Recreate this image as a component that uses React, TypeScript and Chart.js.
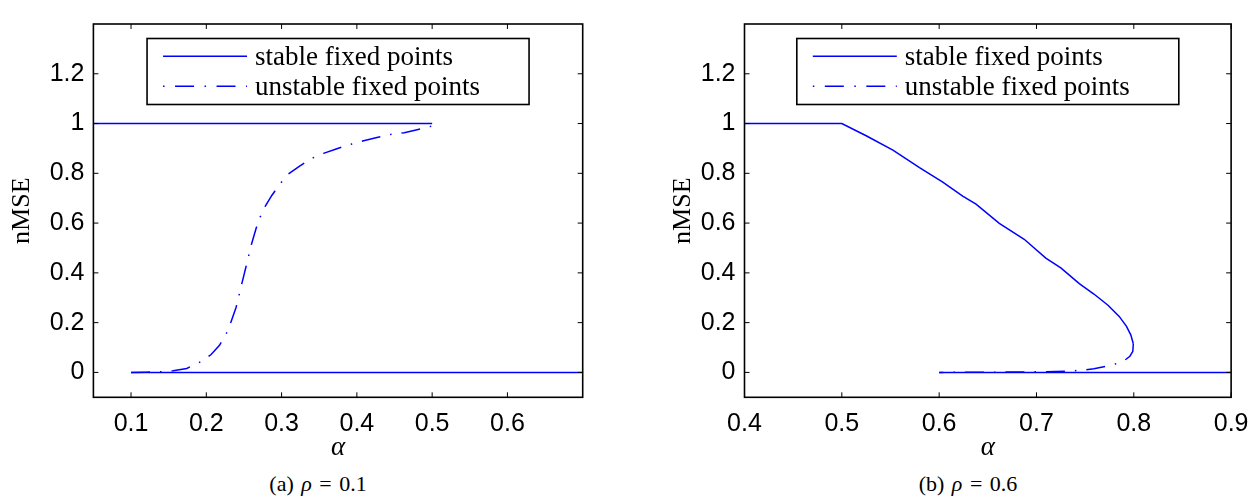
import React, { useEffect, useRef } from "react";
import { Chart, registerables } from "chart.js";

Chart.register(...registerables);

// ---------------- data ----------------
const yTicks = [0, 0.2, 0.4, 0.6, 0.8, 1, 1.2];
const yTickLabels = ["0", "0.2", "0.4", "0.6", "0.8", "1", "1.2"];

const leftAlphaTicks = [0.1, 0.2, 0.3, 0.4, 0.5, 0.6];
const leftAlphaTickLabels = ["0.1", "0.2", "0.3", "0.4", "0.5", "0.6"];
const rightAlphaTicks = [0.4, 0.5, 0.6, 0.7, 0.8, 0.9];
const rightAlphaTickLabels = ["0.4", "0.5", "0.6", "0.7", "0.8", "0.9"];

// (a) rho = 0.1
const leftStableHighAlpha = [0.05, 0.5];
const leftStableHighNmse = [1, 1];
const leftStableLowAlpha = [0.1, 0.7];
const leftStableLowNmse = [0, 0];
const leftUnstableAlpha = [
  0.1, 0.12, 0.14, 0.156, 0.174, 0.194, 0.2064, 0.2175, 0.228, 0.233, 0.2396,
  0.2476, 0.2538, 0.26, 0.2662, 0.2715, 0.278, 0.287, 0.298, 0.309, 0.3225,
  0.34, 0.3557, 0.3735, 0.3935, 0.409, 0.4267, 0.4444, 0.463, 0.48, 0.5,
];
const leftUnstableNmse = [
  0, 0.001, 0.003, 0.0065, 0.016, 0.045, 0.072, 0.109, 0.164, 0.205, 0.262,
  0.362, 0.438, 0.515, 0.579, 0.624, 0.666, 0.711, 0.758, 0.797, 0.826,
  0.86, 0.88, 0.899, 0.918, 0.931, 0.944, 0.956, 0.963, 0.975, 0.99,
];

// (b) rho = 0.6
const rightStableAlpha = [
  0.4, 0.5, 0.525, 0.5525, 0.5798, 0.6037, 0.6242, 0.6379, 0.6618, 0.6874,
  0.7096, 0.725, 0.744, 0.759, 0.7735, 0.785, 0.7925, 0.797, 0.7995,
];
const rightStableNmse = [
  1, 1, 0.951, 0.893, 0.823, 0.765, 0.708, 0.676, 0.599, 0.535,
  0.459, 0.42, 0.357, 0.315, 0.27, 0.225, 0.185, 0.15, 0.115,
];
const rightStableLowAlpha = [0.6, 0.9];
const rightStableLowNmse = [0, 0];
const rightUnstableAlpha = [
  0.7995, 0.799, 0.796, 0.79, 0.781, 0.772, 0.759, 0.745, 0.73, 0.71, 0.68,
  0.64, 0.6,
];
const rightUnstableNmse = [
  0.115, 0.085, 0.065, 0.047, 0.034, 0.025, 0.015, 0.008, 0.005, 0.003, 0.0015,
  0.0005, 0,
];

const legendLabels = ["stable fixed points", "unstable fixed points"];
const yTitle = "nMSE";
const xTitle = "\u03b1";

// ---------------- styles ----------------
const BLUE = "#0000ff";
const DASH_DOT = [19, 10, 1.5, 10];
const LEGEND_DASH_DOT = [1.5, 10.5, 19, 10.5];
const TICK_FONT = { family: '"Liberation Sans", Arial, sans-serif', size: 25 };
const SERIF = '"Liberation Serif", "Times New Roman", serif';

const pts = (xs: number[], ys: number[]) => xs.map((x, i) => ({ x, y: ys[i] }));

const matlabFrame = {
  id: "matlabFrame",
  afterDraw(chart: any, _args: any, opts: any) {
    const { ctx, chartArea: a } = chart;
    const xs = chart.scales.x;
    const ys = chart.scales.y;
    ctx.save();
    ctx.strokeStyle = "#000";
    ctx.lineWidth = 1;
    ctx.setLineDash([]);
    const tl = 5;
    ctx.beginPath();
    for (const t of xs.ticks) {
      const p = xs.getPixelForValue(t.value);
      ctx.moveTo(p, a.bottom);
      ctx.lineTo(p, a.bottom - tl);
      ctx.moveTo(p, a.top);
      ctx.lineTo(p, a.top + tl);
    }
    for (const t of ys.ticks) {
      const p = ys.getPixelForValue(t.value);
      ctx.moveTo(a.left, p);
      ctx.lineTo(a.left + tl, p);
      ctx.moveTo(a.right, p);
      ctx.lineTo(a.right - tl, p);
    }
    ctx.stroke();
    ctx.lineWidth = 1.6;
    ctx.strokeRect(a.left, a.top, a.right - a.left, a.bottom - a.top);

    // legend box
    const w = 382;
    const h = 66;
    const bx = (a.left + a.right) / 2 - w / 2;
    const by = a.top + 14.5;
    ctx.fillStyle = "#fff";
    ctx.fillRect(bx, by, w, h);
    ctx.strokeStyle = "#000";
    ctx.lineWidth = 1.6;
    ctx.strokeRect(bx, by, w, h);
    (opts.entries || []).forEach((e: any, i: number) => {
      const yy = by + 17.8 + i * 30;
      ctx.strokeStyle = e.color;
      ctx.lineWidth = 1.5;
      ctx.setLineDash(e.dash);
      ctx.beginPath();
      ctx.moveTo(bx + 16, yy);
      ctx.lineTo(bx + 100, yy);
      ctx.stroke();
      ctx.setLineDash([]);
      ctx.fillStyle = "#000";
      ctx.font = `27px ${SERIF}`;
      ctx.textAlign = "left";
      ctx.textBaseline = "alphabetic";
      ctx.fillText(e.text, bx + 108, yy + 8.4);
    });
    ctx.restore();
  },
};

type PanelSpec = {
  canvasLeft: number;
  canvasWidth: number;
  yAxisWidth: number;
  padRight: number;
  yTitlePad: number;
  xMin: number;
  xMax: number;
  xTicks: number[];
  xTickLabels: string[];
  datasets: any[];
};

const CANVAS_H = 470;

function buildConfig(spec: PanelSpec): any {
  return {
    type: "line",
    data: { datasets: spec.datasets },
    plugins: [matlabFrame],
    options: {
      responsive: false,
      animation: false,
      events: [],
      layout: { padding: { left: 0, top: 6, right: spec.padRight, bottom: 0 } },
      elements: { point: { radius: 0 }, line: { tension: 0 } },
      plugins: {
        legend: { display: false },
        tooltip: { enabled: false },
        matlabFrame: {
          entries: [
            { text: legendLabels[0], color: BLUE, dash: [] },
            { text: legendLabels[1], color: BLUE, dash: LEGEND_DASH_DOT },
          ],
        },
      },
      scales: {
        x: {
          type: "linear",
          min: spec.xMin,
          max: spec.xMax,
          grid: { display: false, drawTicks: false },
          border: { display: false },
          afterBuildTicks: (s: any) => {
            s.ticks = spec.xTicks.map((v) => ({ value: v }));
          },
          afterFit: (s: any) => {
            s.height = CANVAS_H - 397.3;
          },
          ticks: {
            autoSkip: false,
            maxRotation: 0,
            padding: 11.5,
            color: "#000",
            font: TICK_FONT,
            callback: (_v: any, i: number) => spec.xTickLabels[i],
          },
          title: {
            display: true,
            text: xTitle,
            color: "#000",
            font: { family: SERIF, size: 27, style: "italic" },
            padding: { top: 0, bottom: 5.5 },
          },
        },
        y: {
          type: "linear",
          min: -0.1,
          max: 1.4,
          grid: { display: false, drawTicks: false },
          border: { display: false },
          afterBuildTicks: (s: any) => {
            s.ticks = yTicks.map((v) => ({ value: v }));
          },
          afterFit: (s: any) => {
            s.width = spec.yAxisWidth;
          },
          ticks: {
            autoSkip: false,
            padding: 9,
            color: "#000",
            font: TICK_FONT,
            callback: (_v: any, i: number) => yTickLabels[i],
          },
          title: {
            display: true,
            text: yTitle,
            color: "#000",
            font: { family: SERIF, size: 26 },
            padding: { top: spec.yTitlePad, bottom: 0 },
          },
        },
      },
    },
  };
}

const solid = (data: any[]) => ({
  data,
  borderColor: BLUE,
  borderWidth: 1.5,
  pointRadius: 0,
  fill: false,
});
const dashed = (data: any[]) => ({ ...solid(data), borderDash: DASH_DOT });

const leftSpec: PanelSpec = {
  canvasLeft: 0,
  canvasWidth: 620,
  yAxisWidth: 93.4,
  padRight: 620 - 582.7,
  yTitlePad: 6.4,
  xMin: 0.05,
  xMax: 0.7,
  xTicks: leftAlphaTicks,
  xTickLabels: leftAlphaTickLabels,
  datasets: [
    solid(pts(leftStableHighAlpha, leftStableHighNmse)),
    solid(pts(leftStableLowAlpha, leftStableLowNmse)),
    dashed(pts(leftUnstableAlpha, leftUnstableNmse)),
  ],
};

const rightSpec: PanelSpec = {
  canvasLeft: 620,
  canvasWidth: 640,
  yAxisWidth: 744.5 - 620,
  padRight: 1260 - 1232.7,
  yTitlePad: 47.4,
  xMin: 0.4,
  xMax: 0.9,
  xTicks: rightAlphaTicks,
  xTickLabels: rightAlphaTickLabels,
  datasets: [
    solid(pts(rightStableAlpha, rightStableNmse)),
    solid(pts(rightStableLowAlpha, rightStableLowNmse)),
    dashed(pts(rightUnstableAlpha, rightUnstableNmse)),
  ],
};

function Panel({ spec }: { spec: PanelSpec }) {
  const ref = useRef<HTMLCanvasElement>(null);
  useEffect(() => {
    if (!ref.current) return;
    const chart = new Chart(ref.current, buildConfig(spec));
    return () => chart.destroy();
  }, [spec]);
  return (
    <canvas
      ref={ref}
      width={spec.canvasWidth}
      height={CANVAS_H}
      style={{
        position: "absolute",
        left: spec.canvasLeft,
        top: 0,
        width: spec.canvasWidth,
        height: CANVAS_H,
      }}
    />
  );
}

function Caption({ center, tag, value }: { center: number; tag: string; value: string }) {
  return (
    <div
      style={{
        position: "absolute",
        left: center - 100,
        top: 471,
        width: 200,
        height: 25,
        lineHeight: "25px",
        textAlign: "center",
        fontFamily: SERIF,
        fontSize: 22,
        color: "#000",
        whiteSpace: "nowrap",
        wordSpacing: 2,
      }}
    >
      ({tag}) <i>{"\u03c1"}</i> = {value}
    </div>
  );
}

export default function App() {
  return (
    <div
      style={{
        position: "absolute",
        left: 0,
        top: 0,
        width: 1260,
        height: 496,
        background: "#fff",
        overflow: "hidden",
      }}
    >
      <Panel spec={leftSpec} />
      <Panel spec={rightSpec} />
      <Caption center={318} tag="a" value="0.1" />
      <Caption center={968} tag="b" value="0.6" />
    </div>
  );
}
